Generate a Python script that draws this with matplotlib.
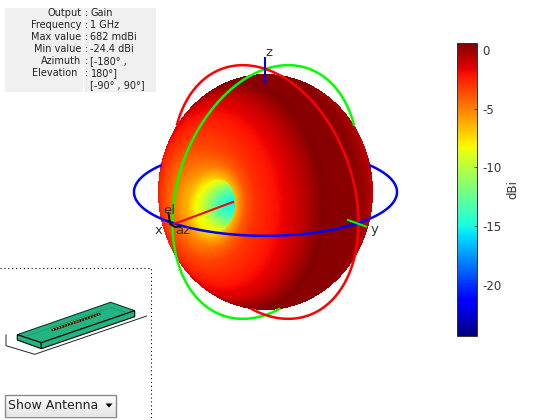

import numpy as np
import matplotlib
matplotlib.use("Agg")
import matplotlib.pyplot as plt
from matplotlib.cm import ScalarMappable
from matplotlib.colors import Normalize
from matplotlib.patches import Polygon, Rectangle

plt.rcParams["axes.unicode_minus"] = False

# %% values
gain_min = -24.4
gain_max = 0.682
cbar_ticks = [0, -5, -10, -15, -20]

info_labels = ["Output", "Frequency", "Max value", "Min value", "Azimuth", "Elevation", ""]
info_values = ["Gain", "1 GHz", "682 mdBi", "-24.4 dBi", "[-180° ,", "180°]", "[-90° , 90°]"]

# gain against angle from the weak side of the pattern
far_angle = [0, 10, 20, 30, 36, 44, 57, 73, 100, 130, 180]
far_gain = [-6.0, -5.5, -4.4, -3.4, -2.9, -2.3, -1.2, 0.5, 0.4, -1.1, -2.0]

# extra drop close to the rim of the null, by pixels from the rim
halo_dist = [0, 5, 12, 24]
halo_drop = [-2.8, -1.8, -0.6, 0]

# gain inside the visible part of the null
null_dist = [0.0, 0.3, 0.6, 0.85, 1.05, 1.3]
null_gain = [-15.6, -14.6, -12.6, -10.2, -8.4, -7.8]

TXT = "#333333"
TOP = "#22b583"

fig = plt.figure(figsize=(5.6, 4.2), dpi=100)
ax = fig.add_axes([0, 0, 1, 1])
norm = Normalize(gain_min, gain_max)
cmap = plt.get_cmap("jet")

# %% pattern surface
cx, cy, rx, ry = 265.5, 192, 107.5, 118
px, py = np.meshgrid(np.arange(158, 374) + 0.5, np.arange(74, 311) + 0.5)
u = (px - cx) / rx
v = -(py - cy) / ry
inside = u**2 + v**2 <= 1
w = np.sqrt(np.clip(1 - u**2 - v**2, 0, None))

weak = np.array([-0.66, -0.1, 0.74])
weak = weak / np.linalg.norm(weak)
ang = np.degrees(np.arccos(np.clip(u * weak[0] + v * weak[1] + w * weak[2], -1, 1)))
surface = np.interp(ang, far_angle, far_gain)

# the dimple only shows up to its rim, the right side is cut
dx, dy = px - 216.5, py - 206
tilt = np.radians(-8)
rho = np.sqrt(((dx * np.cos(tilt) - dy * np.sin(tilt)) / 18.5) ** 2 + ((dx * np.sin(tilt) + dy * np.cos(tilt)) / 26.5) ** 2)
surface = surface + np.interp((rho - 1) * 22, halo_dist, halo_drop)
rim = rho <= 1
d = np.sqrt(((px - 237) / 37) ** 2 + ((py - 205) / 27) ** 2)
surface[rim] = np.interp(d[rim], null_dist, null_gain)

ax.imshow(np.ma.masked_where(~inside, surface), cmap=cmap, norm=norm, interpolation="nearest",
          extent=[158, 374, 311, 74], aspect="auto", zorder=1)

# %% rings, view is az 45 el 20
c0 = np.array([265.5, 192.0])
ax_x = np.array([-93.0, 31.0, 87.0])
ax_y = np.array([93.0, 31.0, 87.0])
ax_z = np.array([0.0, -123.0, 44.0])


def ring(a, b, color, z):
    t = np.radians(np.arange(0, 360.5, 0.5))
    x = c0[0] + a[0] * np.cos(t) + b[0] * np.sin(t)
    y = c0[1] + a[1] * np.cos(t) + b[1] * np.sin(t)
    depth = a[2] * np.cos(t) + b[2] * np.sin(t)
    hidden = (((x - cx) / rx) ** 2 + ((y - cy) / ry) ** 2 < 1) & (depth < 0)
    x[hidden] = np.nan
    ax.plot(x, y, color=color, lw=1.8, zorder=z)


ring(ax_x, ax_z, "#00ff00", 2)
ring(ax_y, ax_z, "#ff0000", 3)
ring(ax_x, ax_y, "#0000ff", 4)

# axis lines
ax.plot([233, 174], [202, 224], color="#ff0000", lw=1.5, zorder=5)
ax.plot([348, 366], [220, 226.5], color="#00ff00", lw=1.5, zorder=5)
ax.plot([265, 265], [58, 81.5], color="#0000ff", lw=1.5, zorder=5)
ax.plot([168.5, 170, 175, 180], [213, 224, 227, 227], color="black", lw=1.3, zorder=6)

ax.text(269, 52, "z", fontsize=9.5, color=TXT, ha="center", va="center", zorder=7)
ax.text(158.5, 231, "x", fontsize=9.5, color=TXT, ha="center", va="center", zorder=7)
ax.text(375, 230, "y", fontsize=9.5, color=TXT, ha="center", va="center", zorder=7)
ax.text(169, 210, "el", fontsize=9.5, color=TXT, ha="center", va="center", zorder=7)
ax.text(182.5, 231, "az", fontsize=9.5, color=TXT, ha="center", va="center", zorder=7)

# %% info box
ax.add_patch(Rectangle((5, 8), 151, 84, fc="#f0f0f0", ec="none", zorder=1))
ax.plot([83, 83], [8, 92], color="white", lw=1, zorder=2)
for i in range(len(info_labels)):
    row = 13 + 12 * i
    right = 77.5 if info_labels[i] == "Elevation" else 81.5
    ax.text(right, row, info_labels[i], fontsize=7, ha="right", va="center", color="#222222", zorder=3)
    if info_labels[i]:
        ax.text(84.5, row, ":", fontsize=7, ha="left", va="center", color="#222222", zorder=3)
    ax.text(90.5, row, info_values[i], fontsize=7, ha="left", va="center", color="#222222", zorder=3)

# %% antenna preview
ax.plot([0, 151, 151], [268, 268, 420], color="black", lw=0.8, ls=(0, (1, 2.5)), zorder=1)
ax.plot([6, 6, 34.7, 146.7], [335, 345.7, 354.3, 316], color="#222222", lw=0.7, zorder=2)
ax.add_patch(Polygon([(17.3, 334.7), (110.7, 302.3), (134.7, 310.7), (41.3, 342.7)], fc=TOP, ec="#0a3a28", lw=0.8, zorder=3))
ax.add_patch(Polygon([(17.3, 334.7), (41.3, 342.7), (41.3, 348.7), (17.3, 340)], fc=TOP, ec="black", lw=0.8, zorder=3))
ax.add_patch(Polygon([(41.3, 342.7), (134.7, 310.7), (134.7, 316.7), (41.3, 348.7)], fc=TOP, ec="black", lw=0.8, zorder=3))
ax.plot([25, 110.7, 127], [336.5, 307.5, 312.5], color="#1a9a6e", lw=0.6, zorder=4)
ax.plot([52.7, 99.3], [330, 314], color="black", lw=1.6, zorder=5)
ax.plot([52.7, 99.3], [330, 314], color="#f0a020", lw=0.9, ls=(0, (1.2, 1.2)), zorder=6)
ax.plot([75, 78], [322.3, 321.3], color="#e02020", lw=1, zorder=7)

# dropdown
ax.imshow(np.linspace(1, 0.9, 22).reshape(-1, 1), cmap="gray", vmin=0, vmax=1, extent=[5, 116, 416.5, 394.5], aspect="auto", zorder=2)
ax.add_patch(Rectangle((5, 394.5), 111, 22, fc="none", ec="#8a8a8a", lw=1, zorder=3))
ax.text(7.5, 405.5, "Show Antenna", fontsize=9, color="#222222", ha="left", va="center", zorder=4)
ax.add_patch(Polygon([(105.5, 403.5), (112.5, 403.5), (109, 407.5)], fc="black", ec="none", zorder=4))

ax.set_xlim(0, 560)
ax.set_ylim(420, 0)
ax.axis("off")

# %% colorbar
cax = fig.add_axes([456.5 / 560, 1 - 336 / 420, 20.5 / 560, 293.5 / 420])
cb = fig.colorbar(ScalarMappable(norm=norm, cmap=cmap), cax=cax)
cb.set_ticks(cbar_ticks)
cb.ax.tick_params(direction="in", length=2, width=0.6, labelsize=8.5, labelcolor=TXT, color=TXT, pad=4)
cb.outline.set_linewidth(0.7)
cb.outline.set_edgecolor(TXT)
cb.set_label("dBi", fontsize=8.5, color=TXT, labelpad=3)

fig.savefig("out.png", dpi=100)
